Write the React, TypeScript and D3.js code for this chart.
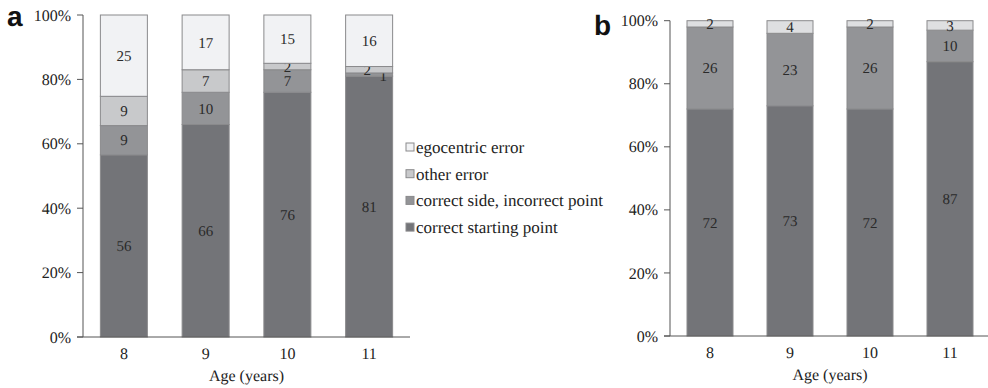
import React from 'react';
import * as d3 from 'd3';

const ages = ['8', '9', '10', '11'];

// panel a (counts, shown as share of each age group)
const aCorrectStart = [56, 66, 76, 81];
const aCorrectSide = [9, 10, 7, 1];
const aOtherError = [9, 7, 2, 2];
const aEgocentric = [25, 17, 15, 16];

// panel b
const bCorrectStart = [72, 73, 72, 87];
const bCorrectSide = [26, 23, 26, 10];
const bError = [2, 4, 2, 3];

const yTicks = [0, 0.2, 0.4, 0.6, 0.8, 1];
const legendLabels = ['egocentric error', 'other error', 'correct side, incorrect point', 'correct starting point'];

const colors: Record<string, string> = {
  start: '#737478',
  side: '#939497',
  other: '#c8c9cb',
  ego: '#f1f2f4',
  err: '#dedfe1',
};

const serif = { fontFamily: 'Liberation Serif' };

function Panel(props: any) {
  const { series, keys, x0, x1, yBottom, yTop, letter, letterY, nudge } = props;

  const rows = ages.map((age, i) => {
    const row: any = { age };
    keys.forEach((k: string) => { row[k] = series[k][i]; });
    return row;
  });
  const stacked = d3.stack<any>().keys(keys).offset(d3.stackOffsetExpand)(rows);

  const x = d3.scaleBand().domain(ages).range([x0, x1]).paddingInner(0.425).paddingOuter(0.2125);
  const y = d3.scaleLinear().domain([0, 1]).range([yBottom, yTop]);
  const pct = d3.format('.0%');

  return (
    <g>
      <text x={x0 - 76} y={letterY} style={{ fontFamily: 'Liberation Sans' }} fontWeight="bold" fontSize={28} fill="#111">{letter}</text>
      {stacked.map(layer => (
        <g key={layer.key}>
          {layer.map((d, i) => {
            const v = series[layer.key][i];
            const n = (nudge && nudge[`${layer.key}-${i}`]) || [0, 0];
            return (
              <g key={i}>
                <rect
                  x={x(ages[i])}
                  y={y(d[1])}
                  width={x.bandwidth()}
                  height={y(d[0]) - y(d[1])}
                  fill={colors[layer.key]}
                  stroke="#8a8a8c"
                  strokeWidth={1}
                />
                <text
                  x={(x(ages[i]) as number) + x.bandwidth() / 2 + n[0]}
                  y={y((d[0] + d[1]) / 2) + n[1]}
                  dy="0.35em"
                  textAnchor="middle"
                  style={serif}
                  fontSize={15}
                  fill="#2a2a2a"
                >{v}</text>
              </g>
            );
          })}
        </g>
      ))}
      <line x1={x0} x2={x0} y1={yTop} y2={yBottom} stroke="#555" />
      <line x1={x0 - 6} x2={x1} y1={yBottom} y2={yBottom} stroke="#555" />
      {yTicks.map(t => (
        <g key={t} transform={`translate(${x0}, ${y(t)})`}>
          <line x1={-6} x2={0} stroke="#555" />
          <text x={-12} dy="0.35em" textAnchor="end" style={serif} fontSize={16} fill="#222">{pct(t)}</text>
        </g>
      ))}
      {ages.map(a => (
        <text key={a} x={(x(a) as number) + x.bandwidth() / 2} y={yBottom + 22} textAnchor="middle" style={serif} fontSize={16} fill="#222">{a}</text>
      ))}
      <text x={(x0 + x1) / 2} y={yBottom + 44} textAnchor="middle" style={serif} fontSize={16} fill="#222">Age (years)</text>
    </g>
  );
}

export default function App() {
  const legendKeys = ['ego', 'other', 'side', 'start'];
  return (
    <div style={{ position: 'absolute', left: 0, top: 0 }}>
      <svg width={988} height={388} textRendering="geometricPrecision" style={{ display: 'block', background: '#fff' }}>
        <Panel
          series={{ start: aCorrectStart, side: aCorrectSide, other: aOtherError, ego: aEgocentric }}
          keys={['start', 'side', 'other', 'ego']}
          x0={83} x1={410} yBottom={337} yTop={15}
          letter="a" letterY={26}
          nudge={{ 'other-3': [-2, 0], 'side-3': [14, 1] }}
        />
        <Panel
          series={{ start: bCorrectStart, side: bCorrectSide, err: bError }}
          keys={['start', 'side', 'err']}
          x0={670} x1={990} yBottom={336} yTop={20.7}
          letter="b" letterY={35}
        />
        {legendLabels.map((label, i) => (
          <g key={label} transform={`translate(406, ${147 + i * 26.7})`}>
            <rect x={0} y={-4} width={8} height={8} fill={colors[legendKeys[i]]} stroke="#8a8a8c" />
            <text x={10} dy="0.35em" style={serif} fontSize={17} fill="#222">{label}</text>
          </g>
        ))}
      </svg>
    </div>
  );
}
